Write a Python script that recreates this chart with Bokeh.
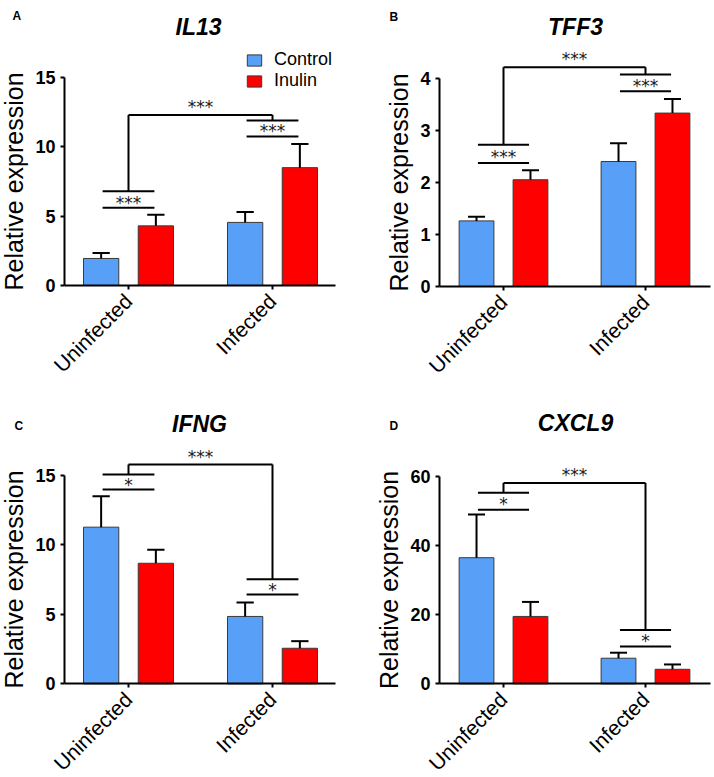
from math import pi
from bokeh.plotting import figure
from bokeh.layouts import gridplot
from bokeh.models import Range1d, FixedTicker, Label, Legend, LegendItem
from bokeh.core.properties import value
from bokeh.embed import file_html
from bokeh.resources import INLINE

groups = ["Uninfected", "Infected"]
treatments = ["Control", "Inulin"]
genes = ["IL13", "TFF3", "IFNG", "CXCL9"]
panel_letters = ["A", "B", "C", "D"]

il13_control = [1.95, 4.55]
il13_control_sem = [0.40, 0.75]
il13_inulin = [4.30, 8.50]
il13_inulin_sem = [0.80, 1.70]

tff3_control = [1.26, 2.40]
tff3_control_sem = [0.08, 0.35]
tff3_inulin = [2.05, 3.33]
tff3_inulin_sem = [0.18, 0.27]

ifng_control = [11.28, 4.85]
ifng_control_sem = [2.22, 1.00]
ifng_inulin = [8.68, 2.56]
ifng_inulin_sem = [0.97, 0.51]

cxcl9_control = [36.5, 7.4]
cxcl9_control_sem = [12.5, 1.6]
cxcl9_inulin = [19.5, 4.2]
cxcl9_inulin_sem = [4.2, 1.4]

# significance annotations (levels)
il13_pair_low = [5.6, 10.75]
il13_pair_high = [6.8, 11.9]
il13_top = 12.3
il13_pair_sig = ["***", "***"]
il13_top_sig = "***"

tff3_pair_low = [2.37, 3.75]
tff3_pair_high = [2.72, 4.07]
tff3_top = 4.21
tff3_pair_sig = ["***", "***"]
tff3_top_sig = "***"

ifng_pair_low = [13.99, 6.43]
ifng_pair_high = [15.07, 7.53]
ifng_top = 15.79
ifng_pair_sig = ["*", "*"]
ifng_top_sig = "***"

cxcl9_pair_low = [50.4, 10.8]
cxcl9_pair_high = [55.3, 15.6]
cxcl9_top = 58.1
cxcl9_pair_sig = ["*", "*"]
cxcl9_top_sig = "***"

il13_yticks = [0, 5, 10, 15]
tff3_yticks = [0, 1, 2, 3, 4]
ifng_yticks = [0, 5, 10, 15]
cxcl9_yticks = [0, 20, 40, 60]

BLUE = "#579FF7"
RED = "#FF0000"
FONT = "Liberation Sans"
STAR_FONT = "DejaVu Sans"
OFF = 0.19
BW = 0.245


def make_panel(gene, letter, ctrl, ctrl_sem, inul, inul_sem, pair_low, pair_high,
               top, pair_sig, top_sig, yticks, g, legend=False):
    W, H = g["size"]
    t0, t1 = g["ticks_px"]
    y0p, ytp = g["y_px"]
    ux = (t1 - t0)
    uy = (y0p - ytp) / yticks[-1]

    def xd(px):
        return (px - t0) / ux

    def yd(py):
        return (y0p - py) / uy

    p = figure(width=W, height=H, output_backend="svg", toolbar_location=None,
               x_range=Range1d(xd(0), xd(W)), y_range=Range1d(yd(H), yd(0)),
               min_border_left=0, min_border_right=0, min_border_top=0, min_border_bottom=0)
    p.outline_line_color = None
    p.grid.visible = False
    p.background_fill_color = "white"

    idx = list(range(len(groups)))
    cx = [i - OFF for i in idx]
    ix = [i + OFF for i in idx]

    rc = p.vbar(x=cx, top=ctrl, bottom=0, width=BW, fill_color=BLUE,
                line_color="#3a3a3a", line_width=1)
    ri = p.vbar(x=ix, top=inul, bottom=0, width=BW, fill_color=RED,
                line_color="#3a3a3a", line_width=1)

    for xx, m, s in ((cx, ctrl, ctrl_sem), (ix, inul, inul_sem)):
        up = [a + b for a, b in zip(m, s)]
        p.segment(x0=xx, y0=m, x1=xx, y1=up, line_color="black", line_width=2)
        p.segment(x0=[x - 0.06 for x in xx], y0=up, x1=[x + 0.06 for x in xx], y1=up,
                  line_color="black", line_width=2)

    # within-group comparisons
    for lev in (pair_low, pair_high):
        p.segment(x0=[i - 0.18 for i in idx], y0=lev, x1=[i + 0.18 for i in idx], y1=lev,
                  line_color="black", line_width=2)
    p.text(x=idx, y=[(a + b) / 2 for a, b in zip(pair_low, pair_high)], text=pair_sig,
           text_align="center", text_baseline="middle", text_font=value(STAR_FONT),
           text_font_size="17px", text_color="#1a1a1a", y_offset=3)
    # between-group comparison
    p.segment(x0=idx, y0=pair_high, x1=idx, y1=[top] * len(idx),
              line_color="black", line_width=2)
    p.segment(x0=[idx[0]], y0=[top], x1=[idx[-1]], y1=[top], line_color="black", line_width=2)
    p.text(x=[sum(idx) / len(idx)], y=[top], text=[top_sig], text_align="center",
           text_baseline="bottom", text_font=value(STAR_FONT), text_font_size="17px",
           text_color="#1a1a1a", y_offset=2)

    # gene name and panel letter
    tx, ty = g["title_px"]
    p.add_layout(Label(x=xd(tx), y=yd(ty), text=gene, text_font=FONT,
                       text_font_style="bold italic", text_font_size="23px",
                       text_color="black", text_align="center", text_baseline="middle"))
    lx, ly = g["letter_px"]
    p.add_layout(Label(x=xd(lx), y=yd(ly), text=letter, text_font=FONT,
                       text_font_style="bold", text_font_size="12px", text_color="black",
                       text_align="left", text_baseline="middle"))

    ax_x = xd(g["yaxis_px"])
    p.yaxis.fixed_location = ax_x
    p.yaxis.ticker = FixedTicker(ticks=yticks)
    p.yaxis.bounds = (0, yticks[-1])
    p.yaxis.axis_label = "Relative expression"
    p.yaxis.axis_label_text_font = FONT
    p.yaxis.axis_label_text_font_style = "normal"
    p.yaxis.axis_label_text_font_size = "25px"
    p.yaxis.axis_label_standoff = 4
    p.yaxis.major_label_text_font = FONT
    p.yaxis.major_label_text_font_style = "bold"
    p.yaxis.major_label_text_font_size = "18px"
    p.yaxis.major_label_standoff = 5

    p.xaxis.fixed_location = 0
    p.xaxis.bounds = (ax_x, xd(g["xend_px"]))
    p.xaxis.ticker = FixedTicker(ticks=idx)
    p.xaxis.major_label_overrides = {i: gname for i, gname in zip(idx, groups)}
    p.xaxis.major_label_orientation = pi / 4
    p.xaxis.major_label_text_font = FONT
    p.xaxis.major_label_text_font_size = "21px"
    p.xaxis.major_label_standoff = 8

    for ax in (p.xaxis, p.yaxis):
        ax.axis_line_width = 2
        ax.axis_line_color = "black"
        ax.major_tick_line_width = 2
        ax.major_tick_line_color = "black"
        ax.major_tick_out = 4
        ax.major_tick_in = 0
        ax.minor_tick_line_color = None
        ax.major_label_text_color = "black"
        ax.axis_label_text_color = "black"

    if legend:
        leg = Legend(items=[LegendItem(label=treatments[0], renderers=[rc]),
                            LegendItem(label=treatments[1], renderers=[ri])],
                     location=g["legend_loc"], glyph_width=18, glyph_height=14,
                     label_standoff=11, spacing=0, padding=0, margin=0,
                     label_text_font=FONT, label_text_font_size="18px",
                     label_text_color="black",
                     border_line_color=None, background_fill_alpha=0)
        p.add_layout(leg, "center")
    return p


geom_a = dict(size=(357, 390), ticks_px=(128, 272), y_px=(285, 77), yaxis_px=64, xend_px=335,
              title_px=(198, 26), letter_px=(12, 15), legend_loc=(245, 299))
geom_b = dict(size=(357, 390), ticks_px=(146, 288), y_px=(286, 77.7), yaxis_px=82, xend_px=353,
              title_px=(218, 26), letter_px=(32, 16))
geom_c = dict(size=(357, 386), ticks_px=(128, 272), y_px=(293.3, 85), yaxis_px=64, xend_px=335,
              title_px=(199, 33), letter_px=(14, 35))
geom_d = dict(size=(357, 386), ticks_px=(146, 288), y_px=(293.3, 86), yaxis_px=82, xend_px=353,
              title_px=(218, 32), letter_px=(32, 35))

pa = make_panel(genes[0], panel_letters[0], il13_control, il13_control_sem, il13_inulin,
                il13_inulin_sem, il13_pair_low, il13_pair_high, il13_top, il13_pair_sig,
                il13_top_sig, il13_yticks, geom_a, legend=True)
pb = make_panel(genes[1], panel_letters[1], tff3_control, tff3_control_sem, tff3_inulin,
                tff3_inulin_sem, tff3_pair_low, tff3_pair_high, tff3_top, tff3_pair_sig,
                tff3_top_sig, tff3_yticks, geom_b)
pc = make_panel(genes[2], panel_letters[2], ifng_control, ifng_control_sem, ifng_inulin,
                ifng_inulin_sem, ifng_pair_low, ifng_pair_high, ifng_top, ifng_pair_sig,
                ifng_top_sig, ifng_yticks, geom_c)
pd = make_panel(genes[3], panel_letters[3], cxcl9_control, cxcl9_control_sem, cxcl9_inulin,
                cxcl9_inulin_sem, cxcl9_pair_low, cxcl9_pair_high, cxcl9_top, cxcl9_pair_sig,
                cxcl9_top_sig, cxcl9_yticks, geom_d)

grid = gridplot([[pa, pb], [pc, pd]], toolbar_location=None)
open("out.html", "w").write(file_html(grid, INLINE))
